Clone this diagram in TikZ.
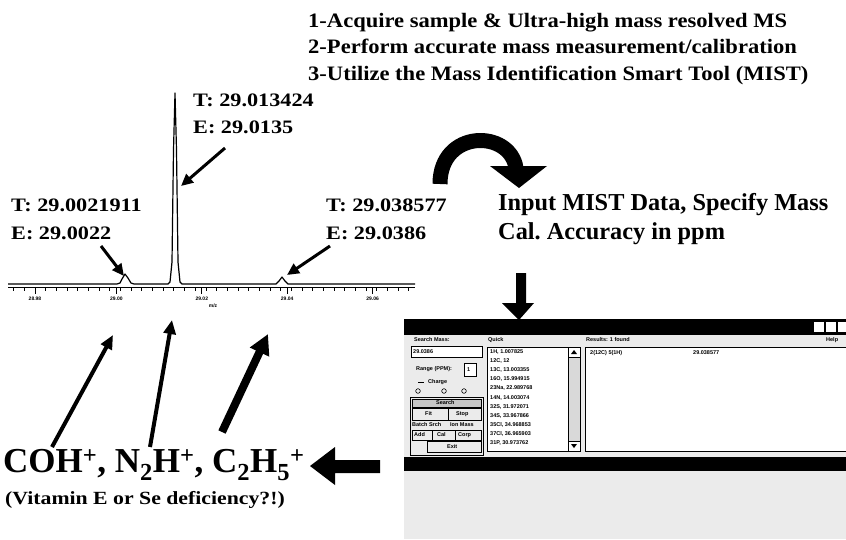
\documentclass[tikz,border=0pt]{standalone}
\usepackage{fontspec}
\setmainfont{Liberation Serif}
\newfontfamily\hdr{Liberation Serif}[FakeStretch=1.1]
\newfontfamily\lbl{Liberation Serif}[FakeStretch=1.17]
\newfontfamily\ui{Liberation Sans}
\usetikzlibrary{arrows.meta}
\tikzset{
  hdrtext/.style={anchor=base west, inner sep=0pt, font=\hdr\bfseries\fontsize{20.5}{24}\selectfont},
  lbltext/.style={anchor=base west, inner sep=0pt, font=\lbl\bfseries\fontsize{19}{22}\selectfont},
  bigtext/.style={anchor=west, inner sep=0pt, font=\bfseries\fontsize{24.3}{28}\selectfont},
  formtext/.style={anchor=west, inner sep=0pt, font=\bfseries\fontsize{35}{40}\selectfont},
  notetext/.style={anchor=west, inner sep=0pt, font=\lbl\bfseries\fontsize{18.6}{22}\selectfont},
  thinarrow/.style={line width=3pt, -{Triangle[length=12pt,width=11pt]}},
  fatarrow/.style={line width=8pt, -{Triangle[length=20pt,width=20pt]}},
  solidshape/.style={fill=black, draw=none},
  tracestyle/.style={line width=1.2pt, line join=round},
  ticklabel/.style={inner sep=0pt, font=\ui\bfseries\fontsize{5}{5}\selectfont},
  uitext/.style={anchor=west, inner sep=0pt, font=\ui\bfseries\fontsize{5.5}{6}\selectfont},
  uibox/.style={draw=black, line width=0.6pt},
}
\begin{document}
\begin{tikzpicture}[x=1pt, y=-1pt]
\useasboundingbox (0,0) rectangle (846,539);
\fill[white] (0,0) rectangle (846,539);

% ---- header steps
\node[hdrtext] (h1) at (308,27) {1-Acquire sample \& Ultra-high mass resolved MS};
\node[hdrtext] (h2) at (308,53.5) {2-Perform accurate mass measurement/calibration};
\node[hdrtext] (h3) at (308,80) {3-Utilize the Mass Identification Smart Tool (MIST)};

% ---- spectrum
\draw[tracestyle] (8,284) -- (117,284) -- (120,283) -- (122,279) -- (125,274) -- (128,278) -- (131,283) -- (134,284)
  -- (168,284) -- (170,282) -- (172,262) -- (173.5,150) -- (175,93) -- (176.5,150) -- (178,262) -- (180,282) -- (182,284)
  -- (276,284) -- (279,281) -- (282,277) -- (285,281) -- (288,284) -- (415,284);
\draw[line width=0.8pt] (8,287.5) -- (415,287.5);
\foreach \k in {-2,...,35} { \draw[line width=0.6pt] ({35+\k*10.675},287.5) -- ++(0,3.5); }
\foreach \x/\l in {35/28.98, 116.4/29.00, 201.8/29.02, 287.2/29.04, 372.6/29.06} {
  \draw[line width=0.8pt] (\x,287.5) -- ++(0,6);
  \node[ticklabel] at (\x,299) {\l};
}
\node[ticklabel] (mz) at (213,306) {m/z};

% ---- peak labels
\node[lbltext] (tmain) at (193,106.5) {T: 29.013424};
\node[lbltext] (emain) at (193,133.5) {E: 29.0135};
\node[lbltext] (tleft) at (11,211.5) {T: 29.0021911};
\node[lbltext] (eleft) at (11,239.5) {E: 29.0022};
\node[lbltext] (tright) at (326,211.5) {T: 29.038577};
\node[lbltext] (eright) at (326,239.5) {E: 29.0386};

\coordinate (amainS) at (225,148);  \coordinate (pkmain) at (181,186);
\coordinate (aleftS) at (101,246);  \coordinate (pkleft) at (124,276);
\coordinate (arightS) at (330,246); \coordinate (pkright) at (287,275);
\draw[thinarrow] (amainS) -- (pkmain);
\draw[thinarrow] (aleftS) -- (pkleft);
\draw[thinarrow] (arightS) -- (pkright);

% ---- curved arrow
\coordinate (cvS) at (440,184);
\coordinate (cvE) at (516,168);
\draw[line width=15pt] (cvS) .. controls (440,129) and (510,129) .. (cvE);
\fill[solidshape] (490,166) -- (547,166) -- (519,188) -- cycle;

\node[bigtext] (in1) at (498,205) {Input MIST Data, Specify Mass};
\node[bigtext] (in2) at (498,234) {Cal.\ Accuracy in ppm};

% ---- down arrow
\fill[solidshape] (516,273) -- (526,273) -- (526,303) -- (534,303) -- (519,320) -- (502,303) -- (516,303) -- cycle;

% ---- screenshot
\fill[gray!16] (404,319) rectangle (846,539);
\fill[black] (404,319) rectangle (846,335);
\foreach \x in {814,826,838} { \fill[white] (\x,322) rectangle ++(10,10); }
\node[uitext] (lsearch) at (414,340) {Search Mass:};
\node[uitext] (lquick) at (488,340) {Quick};
\node[uitext] (lres) at (586,340) {Results: 1 found};
\node[uitext] (lhelp) at (826,340) {Help};

\filldraw[fill=white, uibox] (411,346) rectangle (482,357);
\node[uitext] (mass) at (413,351.5) {29.0386};
\node[uitext] (range) at (416,369) {Range (PPM):};
\filldraw[fill=white, uibox] (464,363) rectangle (476,376);
\node[uitext] (rangev) at (467,369.5) {1};
\draw[line width=0.5pt] (418,382) -- (424,382);
\node[uitext] (charge) at (428,382) {Charge};
\foreach \x in {418,444,464} { \draw[line width=0.6pt] (\x,391) circle (2.3); }
\draw[uibox] (410,397) rectangle (483,455);
\filldraw[fill=gray!45, uibox] (412,399) rectangle (481,407);
\node[uitext] (bsearch) at (436,403) {Search};
\draw[uibox] (412,408) rectangle (481,420);
\draw[uibox] (448,408) -- (448,420);
\node[uitext] (bfit) at (425,414) {Fit};
\node[uitext] (bstop) at (456,414) {Stop};
\node[uitext] (bbatch) at (412,424.5) {Batch Srch};
\node[uitext] (bion) at (450,424.5) {Ion Mass};
\draw[uibox] (412,430) rectangle (481,440);
\draw[uibox] (432,430) -- (432,440);
\draw[uibox] (455,430) -- (455,440);
\node[uitext] (badd) at (414,435) {Add};
\node[uitext] (bcal) at (437,435) {Cal};
\node[uitext] (bcorp) at (458,435) {Corp};
\draw[uibox] (427,441) rectangle (481,452);
\node[uitext] (bexit) at (447,446.5) {Exit};

\filldraw[fill=white, uibox] (487,347) rectangle (568,451);
\filldraw[fill=gray!30, uibox] (568,347) rectangle (580,451);
\filldraw[fill=white, uibox] (568,347) rectangle (580,357);
\filldraw[fill=white, uibox] (568,441) rectangle (580,451);
\fill[black] (571,354) -- (577,354) -- (574,350) -- cycle;
\fill[black] (571,444) -- (577,444) -- (574,448) -- cycle;
\foreach \t [count=\i from 0] in {1H{,} 1.007825, 12C{,} 12, 13C{,} 13.003355, 16O{,} 15.994915, 23Na{,} 22.989768,
   14N{,} 14.003074, 32S{,} 31.972071, 34S{,} 33.967866, 35Cl{,} 34.968853, 37Cl{,} 36.965903, 31P{,} 30.973762} {
  \node[uitext] (q\i) at (490,{352+\i*9.1}) {\t};
}
\filldraw[fill=white, uibox] (585,347) rectangle (846,451);
\node[uitext] (r1) at (590,353) {2(12C) 5(1H)};
\node[uitext] (r2) at (693,353) {29.038577};

\fill[black] (404,457) rectangle (846,471);

% ---- left arrow
\fill[solidshape] (380,460) -- (335,460) -- (335,447) -- (310,466) -- (335,485) -- (335,473) -- (380,473) -- cycle;

% ---- bottom formulas and up arrows
\node[formtext] (ions) at (3,465) {COH\textsuperscript{+}, N\textsubscript{2}H\textsuperscript{+}, C\textsubscript{2}H\textsubscript{5}\textsuperscript{+}};
\node[notetext] (note) at (5,500) {(Vitamin E or Se deficiency?!)};
\coordinate (u1S) at (52,447);  \coordinate (u1E) at (113,335);
\coordinate (u2S) at (150,447); \coordinate (u2E) at (172,320);
\coordinate (u3S) at (222,432); \coordinate (u3E) at (268,334);
\draw[line width=4pt, -{Triangle[length=14pt,width=12pt]}] (u1S) -- (u1E);
\draw[line width=4pt, -{Triangle[length=14pt,width=12pt]}] (u2S) -- (u2E);
\draw[fatarrow] (u3S) -- (u3E);
\end{tikzpicture}
\end{document}
